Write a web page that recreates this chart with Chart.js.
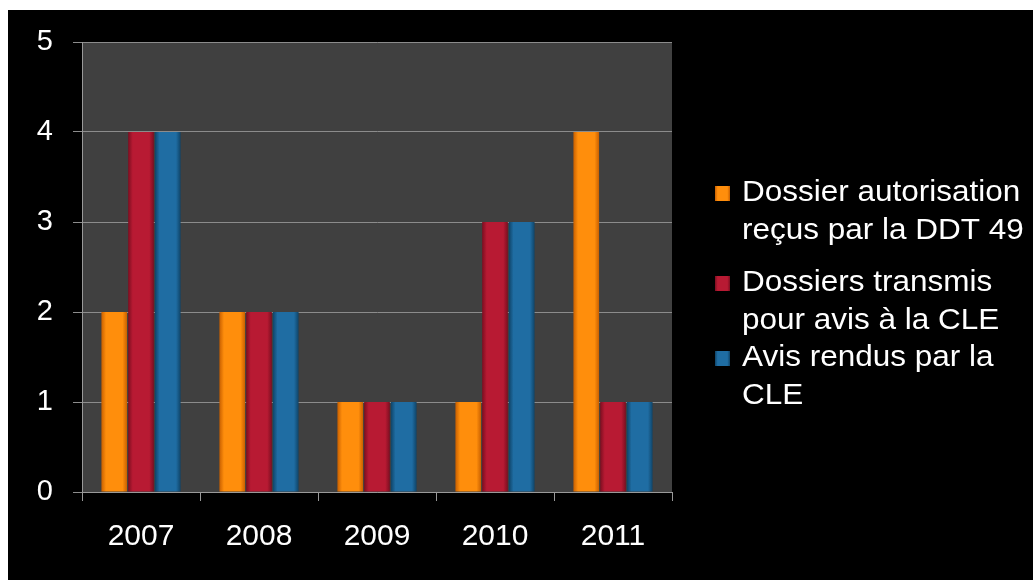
<!DOCTYPE html>
<html>
<head>
<meta charset="utf-8">
<script src="https://cdn.jsdelivr.net/npm/chart.js@4"></script>
<style>
  html, body { margin: 0; padding: 0; background: #fff; }
  #cadre { position: absolute; left: 8px; top: 10px; width: 1025px; height: 570px; background: #000; }
</style>
</head>
<body>
<div id="cadre"><canvas id="graphique" width="1025" height="570"></canvas></div>
<script>
// ======= Données =======
const annees = ['2007', '2008', '2009', '2010', '2011'];
const dossiersRecus = [2, 2, 1, 1, 4];
const dossiersTransmis = [4, 2, 1, 3, 1];
const avisRendus = [4, 2, 1, 3, 1];
const graduationsY = [0, 1, 2, 3, 4, 5];

const legendes = [
    ['Dossier autorisation', 'reçus par la DDT 49'],
    ['Dossiers transmis', 'pour avis à la CLE'],
    ['Avis rendus par la', 'CLE']
];

// couleurs : bord, centre
const teintes = [
    ['#c96000', '#ff8e0c'],
    ['#7c0e20', '#b81a33'],
    ['#0f4468', '#1f6da3']
];

const police = '"Liberation Sans", Arial, sans-serif';

function degrade(ctx, x0, x1, i) {
    const g = ctx.createLinearGradient(x0, 0, x1, 0);
    g.addColorStop(0, teintes[i][0]);
    g.addColorStop(0.18, teintes[i][1]);
    g.addColorStop(0.82, teintes[i][1]);
    g.addColorStop(1, teintes[i][0]);
    return g;
}

// ======= Dégradé horizontal sur chaque barre =======
const pluginDegrade = {
    id: 'degrade',
    beforeDatasetsDraw(chart) {
        const ctx = chart.ctx;
        chart.data.datasets.forEach((ds, i) => {
            const meta = chart.getDatasetMeta(i);
            meta.data.forEach(barre => {
                const g = degrade(ctx, barre.x - barre.width / 2, barre.x + barre.width / 2, i);
                barre.options = Object.assign({}, barre.options, { backgroundColor: g });
            });
        });
    }
};

// ======= Fond de la zone de tracé =======
const pluginFond = {
    id: 'fond',
    beforeDraw(chart) {
        const a = chart.chartArea;
        chart.ctx.save();
        chart.ctx.fillStyle = '#404040';
        chart.ctx.fillRect(a.left, a.top, a.right - a.left, a.bottom - a.top);
        chart.ctx.restore();
    }
};

// ======= Légende sur deux lignes =======
const departsLegende = [183, 273, 348];
const pluginLegende = {
    id: 'legendeMulti',
    afterDraw(chart) {
        const ctx = chart.ctx;
        ctx.save();
        ctx.textBaseline = 'middle';
        chart.data.datasets.forEach((ds, i) => {
            const y = departsLegende[i];
            ctx.fillStyle = degrade(ctx, 707, 722, i);
            ctx.fillRect(707, y - 7, 15, 15);
            ctx.fillStyle = '#fff';
            legendes[i].forEach((ligne, k) => {
                ctx.save();
                ctx.translate(734, y + k * 38);
                ctx.scale(1.05, 1);
                ctx.font = '30px ' + police;
                ctx.fillText(ligne, 0, 0);
                ctx.restore();
            });
        });
        ctx.restore();
    }
};

const ctx = document.getElementById('graphique').getContext('2d');
const chart = new Chart(ctx, {
    type: 'bar',
    data: {
        labels: annees,
        datasets: [
            { label: legendes[0].join(' '), data: dossiersRecus, backgroundColor: teintes[0][1] },
            { label: legendes[1].join(' '), data: dossiersTransmis, backgroundColor: teintes[1][1] },
            { label: legendes[2].join(' '), data: avisRendus, backgroundColor: teintes[2][1] }
        ]
    },
    options: {
        responsive: false,
        animation: false,
        layout: { padding: { left: 0, top: 32, right: 361, bottom: 0 } },
        datasets: {
            bar: { categoryPercentage: 0.68, barPercentage: 0.96, borderWidth: 0 }
        },
        plugins: {
            legend: { display: false },
            tooltip: { enabled: false }
        },
        scales: {
            x: {
                grid: { drawOnChartArea: false, drawTicks: true, tickLength: 9, color: '#999' },
                border: { color: '#999', width: 1 },
                ticks: { color: '#fff', font: { family: police, size: 30 }, padding: 18 },
                afterFit(scale) { scale.height = 88; }
            },
            y: {
                min: 0,
                max: 5,
                afterBuildTicks(scale) { scale.ticks = graduationsY.map(v => ({ value: v })); },
                grid: { color: '#8c8c8c', tickLength: 9, lineWidth: 1 },
                border: { color: '#999', width: 1 },
                ticks: { color: '#fff', font: { family: police, size: 29 }, padding: 20 },
                afterFit(scale) {
                    scale.width = 74;
                    scale.paddingTop = 0;
                    scale.paddingBottom = 0;
                }
            }
        }
    },
    plugins: [pluginFond, pluginDegrade, pluginLegende]
});
</script>
</body>
</html>
